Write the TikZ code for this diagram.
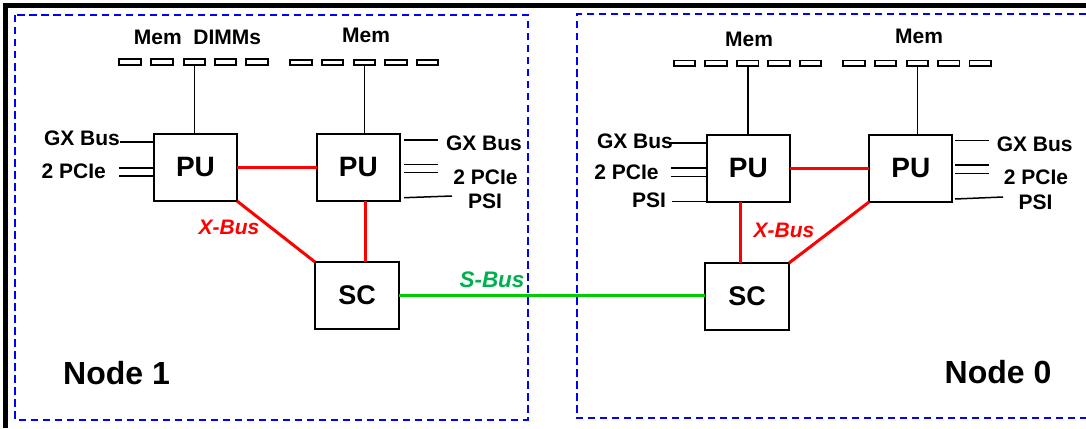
\documentclass[tikz,border=0pt]{standalone}
\usepackage{fontspec}
\setmainfont{Liberation Sans}
\definecolor{xred}{RGB}{255,0,0}
\definecolor{sgreen}{RGB}{0,204,0}
\definecolor{stext}{RGB}{0,176,80}
\definecolor{dblue}{RGB}{0,0,255}
\begin{document}
\begin{tikzpicture}[x=1pt,y=-1pt,
  pubox/.style={draw, line width=2pt, minimum width=83pt, minimum height=67pt, inner sep=0pt, outer sep=0pt, font=\fontsize{28}{30}\selectfont\bfseries},
  scbox/.style={draw, line width=2pt, minimum width=84pt, minimum height=67pt, inner sep=0pt, outer sep=0pt, font=\fontsize{27}{30}\selectfont\bfseries},
  dimm/.style={draw, fill=white, line width=1.8pt, minimum width=21.5pt, minimum height=5.6pt, inner sep=0pt, outer sep=0pt},
  lbl/.style={inner sep=0pt, font=\fontsize{21}{24}\selectfont\bfseries},
  xlbl/.style={inner sep=0pt, text=xred, font=\fontsize{21}{24}\selectfont\bfseries\itshape},
  slbl/.style={inner sep=0pt, text=stext, font=\fontsize{22.5}{25}\selectfont\bfseries\itshape},
  nlbl/.style={inner sep=0pt, font=\fontsize{32}{36}\selectfont\bfseries},
  stub/.style={line width=1.5pt},
  redbus/.style={draw=xred, line width=3pt},
  greenbus/.style={draw=sgreen, line width=3pt},
  dashbox/.style={draw=dblue, line width=2pt, dash pattern=on 7.5pt off 4.5pt},
  frame/.style={line width=4.5pt}
]
\useasboundingbox (0,0) rectangle (1086,428);

% outer frame (left and top sides visible)
\coordinate (fa) at (5.5,428);
\coordinate (fb) at (5.5,5.5);
\coordinate (fc) at (1086,5.5);
\draw[frame] (fa) -- (fb) -- (fc);

% dashed node enclosures
\coordinate (d1a) at (15,15);
\coordinate (d1b) at (527.5,419.5);
\draw[dashbox] (d1a) rectangle (d1b);
\coordinate (d0a) at (1086,14);
\coordinate (d0b) at (577,14);
\coordinate (d0c) at (577,418.3);
\coordinate (d0d) at (1086,418.3);
\draw[dashbox] (d0a) -- (d0b) -- (d0c) -- (d0d);

% processing units and system controllers
\node[pubox] (pu1a) at (195.5,167.5) {PU};
\node[pubox] (pu1b) at (358.3,167.5) {PU};
\node[scbox] (sc1) at (357,295.5) {SC};
\node[pubox] (pu0a) at (748.3,168.3) {PU};
\node[pubox] (pu0b) at (910.8,168.3) {PU};
\node[scbox] (sc0) at (747,296.5) {SC};

% memory DIMMs
\foreach \i/\x in {1/130,2/162,3/194.5,4/225.5,5/257}
  \node[dimm] (ma\i) at (\x,62) {};
\foreach \i/\x in {1/301,2/332.5,3/364.5,4/396,5/427.5}
  \node[dimm] (mb\i) at (\x,62.5) {};
\foreach \i/\x in {1/684.5,2/716,3/747.8,4/779,5/810.5}
  \node[dimm] (mc\i) at (\x,63.3) {};
\foreach \i/\x in {1/854,2/885.5,3/917.5,4/948.8,5/980.3}
  \node[dimm] (md\i) at (\x,63.3) {};

\draw[stub] (ma3.south) -- (ma3.south |- pu1a.north);
\draw[stub] (mb3.south) -- (mb3.south |- pu1b.north);
\draw[stub] (mc3.south) -- (mc3.south |- pu0a.north);
\draw[stub] (md3.south) -- (md3.south |- pu0b.north);

% memory labels
\node[lbl] (mla) at (197.5,37.7) {Mem~~DIMMs};
\node[lbl] (mlb) at (366,35.8) {Mem};
\node[lbl] (mlc) at (749,39.2) {Mem};
\node[lbl] (mld) at (919,36.8) {Mem};

% I/O labels
\node[lbl] (gxa) at (82,138.3) {GX Bus};
\node[lbl] (pca) at (73.8,171.5) {2 PCIe};
\node[lbl] (gxb) at (484,143.3) {GX Bus};
\node[lbl] (pcb) at (485.5,177) {2 PCIe};
\node[lbl] (psb) at (485,201.7) {PSI};
\node[lbl] (gxc) at (635,140.8) {GX Bus};
\node[lbl] (pcc) at (626.5,172.3) {2 PCIe};
\node[lbl] (psc) at (649,200) {PSI};
\node[lbl] (gxd) at (1034.7,143.8) {GX Bus};
\node[lbl] (pcd) at (1036,177.2) {2 PCIe};
\node[lbl] (psd) at (1035.5,202) {PSI};

% I/O stubs, node 1
\coordinate (s1) at (120,142);
\coordinate (s2) at (119,168);
\coordinate (s3) at (119,176);
\draw[stub] (s1) -- (s1 -| pu1a.west);
\draw[stub] (s2) -- (s2 -| pu1a.west);
\draw[stub] (s3) -- (s3 -| pu1a.west);
\coordinate (s4) at (404,140);    \coordinate (e4) at (438,140);
\coordinate (s5) at (404,164.3);  \coordinate (e5) at (438,164.3);
\coordinate (s6) at (404,172.7);  \coordinate (e6) at (438,172.7);
\coordinate (s7) at (404,197.7);  \coordinate (e7) at (452,196);
\draw[stub] (s4) -- (e4);
\draw[stub] (s5) -- (e5);
\draw[stub] (s6) -- (e6);
\draw[stub] (s7) -- (e7);

% I/O stubs, node 0
\coordinate (t1) at (670,143);
\coordinate (t2) at (671,168);
\coordinate (t3) at (671,176.7);
\coordinate (t4) at (672,201.5);
\draw[stub] (t1) -- (t1 -| pu0a.west);
\draw[stub] (t2) -- (t2 -| pu0a.west);
\draw[stub] (t3) -- (t3 -| pu0a.west);
\draw[stub] (t4) -- (t4 -| pu0a.west);
\coordinate (t5) at (955,140.7);  \coordinate (u5) at (989,140.7);
\coordinate (t6) at (955,165);    \coordinate (u6) at (989,165);
\coordinate (t7) at (955,173.3);  \coordinate (u7) at (989,173.3);
\coordinate (t8) at (955,199);    \coordinate (u8) at (1003,197);
\draw[stub] (t5) -- (u5);
\draw[stub] (t6) -- (u6);
\draw[stub] (t7) -- (u7);
\draw[stub] (t8) -- (u8);

% X-Bus links
\coordinate (xr1) at (365.7,0);
\coordinate (xr0) at (740,0);
\draw[redbus] (pu1a.east) -- (pu1b.west);
\draw[redbus] (pu1a.south east) -- (sc1.north west);
\draw[redbus] (pu1b.south -| xr1) -- (sc1.north -| xr1);
\draw[redbus] (pu0a.east) -- (pu0b.west);
\draw[redbus] (pu0a.south -| xr0) -- (sc0.north -| xr0);
\draw[redbus] (sc0.north east) -- (pu0b.south west);

% S-Bus link
\draw[greenbus] (sc1.east) -- (sc1.east -| sc0.west);

% bus labels
\node[xlbl] (xb1) at (229,227) {X-Bus};
\node[xlbl] (xb0) at (784,230.7) {X-Bus};
\node[slbl] (sb) at (492,280) {S-Bus};

% node labels
\node[nlbl] (n1) at (116.5,372.7) {Node 1};
\node[nlbl] (n0) at (998,371.7) {Node 0};
\end{tikzpicture}
\end{document}
